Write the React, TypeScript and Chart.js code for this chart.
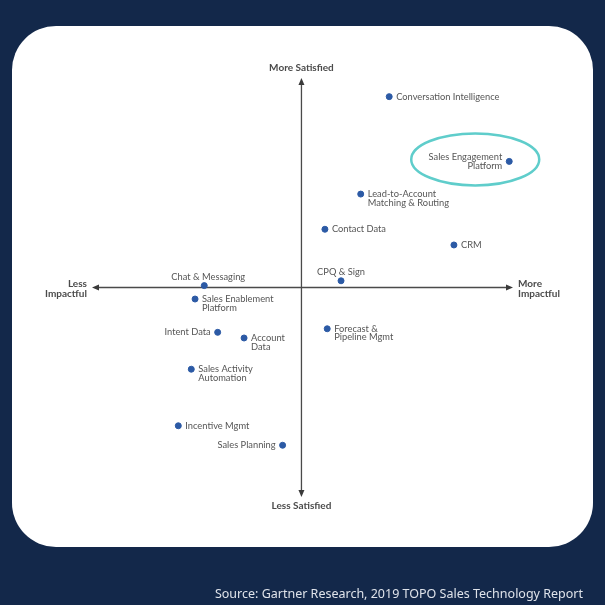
import React, { useEffect, useRef } from "react";
import { Chart, registerables } from "chart.js";

Chart.register(...registerables);

const names = [
  "Conversation Intelligence",
  "Sales Engagement\nPlatform",
  "Lead-to-Account\nMatching & Routing",
  "Contact Data",
  "CRM",
  "CPQ & Sign",
  "Chat & Messaging",
  "Sales Enablement\nPlatform",
  "Intent Data",
  "Account\nData",
  "Forecast &\nPipeline Mgmt",
  "Sales Activity\nAutomation",
  "Incentive Mgmt",
  "Sales Planning",
];
const impact = [4.19, 9.92, 2.83, 1.12, 7.28, 1.89, -4.64, -5.08, -4.0, -2.74, 1.23, -5.26, -5.88, -0.9];
const satisfaction = [9.11, 6.02, 4.46, 2.78, 2.03, 0.32, 0.09, -0.55, -2.14, -2.41, -1.97, -3.9, -6.6, -7.53];
const highlighted = ["Sales Engagement\nPlatform"];

const axisTop = "More Satisfied";
const axisBottom = "Less Satisfied";
const axisLeft = ["Less", "Impactful"];
const axisRight = ["More", "Impactful"];
const sourceText = "Source: Gartner Research, 2019 TOPO Sales Technology Report";

// label placement per point (style only)
const labelSide: Record<string, string> = {
  "Sales Engagement\nPlatform": "left",
  "Intent Data": "left",
  "Sales Planning": "left",
  "CPQ & Sign": "top",
  "Chat & Messaging": "top",
};

const FONT = "Lato, 'Open Sans', sans-serif";

export default function App() {
  const ref = useRef<HTMLCanvasElement>(null);
  useEffect(() => {
    if (!ref.current) return;
    const quadPlugin = {
      id: "quad",
      beforeDatasetsDraw(chart: any) {
        const { ctx, scales } = chart;
        const xs = scales.x, ys = scales.y;
        const x0 = xs.getPixelForValue(0);
        const y0 = ys.getPixelForValue(0);
        const L = xs.left, R = xs.right, T = ys.top, B = ys.bottom;
        ctx.save();
        ctx.strokeStyle = "#4a4a4a";
        ctx.fillStyle = "#3a3a3a";
        ctx.lineWidth = 1.3;
        ctx.beginPath();
        ctx.moveTo(L + 5, y0);
        ctx.lineTo(R - 5, y0);
        ctx.moveTo(x0, T + 5);
        ctx.lineTo(x0, B - 5);
        ctx.stroke();
        const tri = (pts: number[][]) => {
          ctx.beginPath();
          ctx.moveTo(pts[0][0], pts[0][1]);
          ctx.lineTo(pts[1][0], pts[1][1]);
          ctx.lineTo(pts[2][0], pts[2][1]);
          ctx.closePath();
          ctx.fill();
        };
        tri([[L, y0], [L + 7, y0 - 3], [L + 7, y0 + 3]]);
        tri([[R, y0], [R - 7, y0 - 3], [R - 7, y0 + 3]]);
        tri([[x0, T], [x0 - 3, T + 7], [x0 + 3, T + 7]]);
        tri([[x0, B], [x0 - 3, B - 7], [x0 + 3, B - 7]]);

        ctx.fillStyle = "#4b4b4b";
        ctx.font = `bold 10px ${FONT}`;
        ctx.textAlign = "center";
        ctx.textBaseline = "middle";
        ctx.fillText(axisTop, x0, T - 10);
        ctx.fillText(axisBottom, x0, B + 9);
        ctx.textAlign = "right";
        ctx.fillText(axisLeft[0], L - 5, y0 - 4);
        ctx.fillText(axisLeft[1], L - 5, y0 + 6);
        ctx.textAlign = "left";
        ctx.fillText(axisRight[0], R + 5, y0 - 4);
        ctx.fillText(axisRight[1], R + 5, y0 + 6);
        ctx.restore();
      },
      afterDatasetsDraw(chart: any) {
        const { ctx } = chart;
        const meta = chart.getDatasetMeta(0);
        ctx.save();
        ctx.font = `9.3px ${FONT}`;
        ctx.fillStyle = "#555";
        ctx.textBaseline = "middle";
        const lh = 8.7;
        meta.data.forEach((pt: any, i: number) => {
          const name = names[i];
          const lines = name.split("\n");
          const side = labelSide[name] || "right";
          const px = pt.x, py = pt.y;
          if (side === "top") {
            ctx.textAlign = "center";
            ctx.fillText(lines[0], px + (name === "Chat & Messaging" ? 4 : 0), py - 9);
          } else if (side === "left") {
            ctx.textAlign = "right";
            const startY = lines.length > 1 ? py - lh / 2 : py;
            lines.forEach((ln, k) => ctx.fillText(ln, px - 7, startY + k * lh));
          } else {
            ctx.textAlign = "left";
            lines.forEach((ln, k) => ctx.fillText(ln, px + 7, py + k * lh));
          }
          if (highlighted.includes(name)) {
            ctx.save();
            ctx.strokeStyle = "#5fcdcb";
            ctx.lineWidth = 2.5;
            ctx.beginPath();
            ctx.ellipse(px - 34, py - 2, 64, 26, 0, 0, Math.PI * 2);
            ctx.stroke();
            ctx.restore();
          }
        });
        ctx.restore();
      },
    };
    const chart = new Chart(ref.current, {
      type: "scatter",
      data: {
        datasets: [
          {
            data: impact.map((x, i) => ({ x, y: satisfaction[i] })),
            backgroundColor: "#2c5aa5",
            borderColor: "#2c5aa5",
            pointRadius: 3,
            pointHoverRadius: 3,
          },
        ],
      },
      options: {
        responsive: false,
        animation: false,
        events: [],
        layout: { padding: { left: 92, right: 92, top: 78, bottom: 108 } },
        plugins: { legend: { display: false }, tooltip: { enabled: false } },
        scales: {
          x: { type: "linear", min: -10, max: 10.1, display: false },
          y: { type: "linear", min: -10, max: 10, display: false },
        },
      },
      plugins: [quadPlugin],
    });
    return () => chart.destroy();
  }, []);

  return (
    <div style={{ position: "fixed", left: 0, top: 0, width: 605, height: 605, background: "#13284a", overflow: "hidden" }}>
      <div style={{ position: "absolute", left: 12, top: 26, width: 581, height: 521, background: "#ffffff", borderRadius: 44 }} />
      <canvas ref={ref} width={605} height={605} style={{ position: "absolute", left: 0, top: 0 }} />
      <div
        style={{
          position: "absolute",
          right: 22,
          top: 585,
          color: "#dfe3ea",
          fontFamily: "'Noto Sans', 'Open Sans', sans-serif",
          fontSize: 12.5,
          lineHeight: "18px",
          whiteSpace: "nowrap",
        }}
      >
        {sourceText}
      </div>
    </div>
  );
}
